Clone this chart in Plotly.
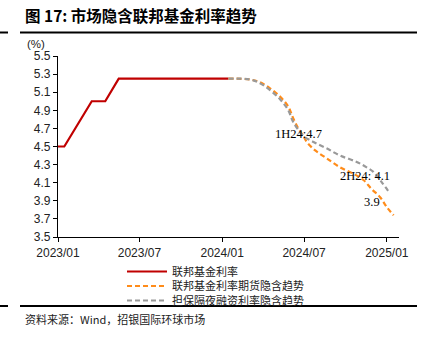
import plotly.graph_objects as go

fed_dates = ["2023-01-01", "2023-01-15", "2023-03-17", "2023-04-16", "2023-05-16", "2024-01-15"]
fed_values = [4.5, 4.5, 5.0, 5.0, 5.25, 5.25]

fut_dates = ["2024-01-15", "2024-03-03", "2024-03-25", "2024-04-17", "2024-05-09", "2024-05-27",
             "2024-06-07", "2024-06-18", "2024-06-29", "2024-07-07", "2024-07-25", "2024-08-20",
             "2024-09-19", "2024-10-18", "2024-11-10", "2024-11-28", "2024-12-17", "2025-01-01",
             "2025-01-16"]
fut_values = [5.25, 5.24, 5.21, 5.14, 5.05, 4.94, 4.81, 4.70, 4.62, 4.55, 4.46, 4.37,
              4.27, 4.20, 4.13, 4.03, 3.94, 3.83, 3.74]

sofr_dates = ["2024-01-15", "2024-03-03", "2024-03-25", "2024-04-17", "2024-05-09", "2024-05-27",
              "2024-06-07", "2024-06-29", "2024-07-22", "2024-08-20", "2024-09-19", "2024-10-26",
              "2024-11-17", "2024-12-02", "2024-12-20", "2025-01-08"]
sofr_values = [5.25, 5.24, 5.20, 5.12, 5.02, 4.90, 4.77, 4.62, 4.55, 4.48, 4.40, 4.33,
               4.27, 4.22, 4.11, 3.98]

labels = [("2024-06-18", 4.64, "1H24:4.7"), ("2024-11-14", 4.17, "2H24: 4.1"), ("2024-11-28", 3.89, "3.9")]

tick_vals = ["2023-01-01", "2023-07-01", "2024-01-01", "2024-07-01", "2025-01-01"]
tick_text = ["2023/01", "2023/07", "2024/01", "2024/07", "2025/01"]
y_ticks = [3.5, 3.7, 3.9, 4.1, 4.3, 4.5, 4.7, 4.9, 5.1, 5.3, 5.5]

W, H = 429, 340
L, R, T, B = 58, 30, 56, 103
pw, ph = W - L - R, H - T - B
def px(x): return (x - L) / pw
def py(y): return (H - B - y) / ph

cjk = "Noto Sans CJK SC"
fig = go.Figure()
fig.add_trace(go.Scatter(x=fed_dates, y=fed_values, mode="lines", name="联邦基金利率",
                         line=dict(color="#C00000", width=2.2), legend="legend"))
fig.add_trace(go.Scatter(x=fut_dates, y=fut_values, mode="lines", name="联邦基金利率期货隐含趋势",
                         line=dict(color="#FF8C1A", width=2.2, dash="5px,3px", shape="spline"),
                         legend="legend2"))
fig.add_trace(go.Scatter(x=sofr_dates, y=sofr_values, mode="lines", name="担保隔夜融资利率隐含趋势",
                         line=dict(color="#999999", width=2.2, dash="5px,3px", shape="spline"),
                         legend="legend3"))

for d, v, t in labels:
    fig.add_annotation(x=d, y=v, text=t, showarrow=False, xref="x", yref="y",
                       font=dict(family="Liberation Serif", size=12.5, color="#000"))

fig.add_annotation(x=px(23), y=py(15), xref="paper", yref="paper", text="<b>图 17: 市场隐含联邦基金利率趋势</b>",
                   showarrow=False, xanchor="left", yanchor="middle",
                   font=dict(family=cjk, size=15.5, color="#000"))
fig.add_annotation(x=px(25), y=py(44), xref="paper", yref="paper", text="(%)",
                   showarrow=False, xanchor="left", yanchor="middle",
                   font=dict(family="Liberation Sans", size=11.5, color="#222"))
fig.add_annotation(x=px(23), y=py(319), xref="paper", yref="paper", text="资料来源：Wind，招银国际环球市场",
                   showarrow=False, xanchor="left", yanchor="middle",
                   font=dict(family=cjk, size=11, color="#222"))
for x0, x1, yy in [(0, 8, 32.5), (20, 417, 32.5), (0, 8, 306), (20, 417, 306)]:
    fig.add_shape(type="line", xref="paper", yref="paper", x0=px(x0), x1=px(x1), y0=py(yy), y1=py(yy),
                  line=dict(color="#000", width=2))

leg = dict(xanchor="left", yanchor="top", bgcolor="rgba(0,0,0,0)",
           font=dict(family=cjk, size=11, color="#222"), itemwidth=40)
fig.update_layout(
    width=W, height=H, margin=dict(l=L, r=R, t=T, b=B),
    paper_bgcolor="white", plot_bgcolor="white",
    showlegend=True,
    legend=dict(x=px(122), y=py(257), **leg),
    legend2=dict(x=px(122), y=py(271.5), **leg),
    legend3=dict(x=px(122), y=py(286), **leg),
    xaxis=dict(type="date", range=["2023-01-01", "2025-01-28"], tickvals=tick_vals, ticktext=tick_text,
               showgrid=False, showline=True, linecolor="#000", linewidth=1.3, ticks="outside",
               ticklen=4, tickcolor="#000", zeroline=False,
               tickfont=dict(family="Liberation Sans", size=12, color="#222")),
    yaxis=dict(range=[3.5, 5.5], tickvals=y_ticks, tickformat=".1f", showgrid=False, showline=True,
               linecolor="#000", linewidth=1.3, ticks="outside", ticklen=4, tickcolor="#000",
               zeroline=False, tickfont=dict(family="Liberation Sans", size=12, color="#222")),
)
fig.write_html("out.html")
